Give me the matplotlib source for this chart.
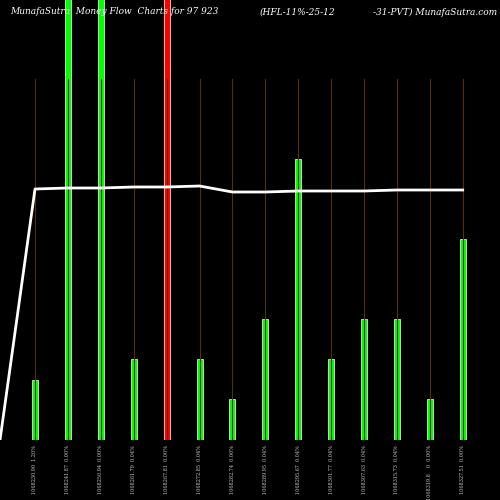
import numpy as np
import matplotlib.pyplot as plt

# bar heights in pixel-ish units (0 = bottom at 440)
vols = [60, 600, 600, 81, 600, 81, 41, 121, 281, 81, 121, 121, 41, 201]
colors = ['#00ff00'] * 14
colors[4] = '#ff0000'
price = [0, 251, 252, 252, 253, 253, 254, 248, 248, 249, 249, 249, 250, 250, 250]
labels = ['1068230.90  1.20%', '1068241.87  0.00%', '1068250.94  0.00%', '1068261.79  0.04%',
          '1068267.81  0.00%', '1068272.85  0.04%', '1068282.74  0.00%', '1068289.95  0.04%',
          '1068295.67  0.04%', '1068301.77  0.04%', '1068307.63  0.04%', '1068315.73  0.04%',
          '1068319.8    0  0.00%', '1068327.51  0.00%']

fig = plt.figure(figsize=(5, 5), dpi=100, facecolor='black')
ax = fig.add_axes([0, 0.12, 1, 0.88])
ax.set_facecolor('black')
ax.set_xlim(0, 500)
ax.set_ylim(0, 440)
ax.axis('off')

xs = 35 + 32.9 * np.arange(14)
for x in xs:
    ax.axvline(x, color='#5a3000', lw=0.8, ymin=0, ymax=0.82)
ax.bar(xs, vols, width=6, color=colors, edgecolor='white', linewidth=0.5)
ax.plot(np.concatenate([[0], xs]), price, color='white', lw=2)

for x, l in zip(xs, labels):
    fig.text(x / 500, 0.11, l, rotation=90, color='#cccccc', fontsize=3.5,
             ha='center', va='top', family='serif')

fig.text(0.02, 0.985, 'MunafaSutra  Money Flow  Charts for 97 923', color='white',
         fontsize=6.5, style='italic', family='serif', va='top')
fig.text(0.52, 0.985, '(HFL-11%-25-12', color='white', fontsize=6.5, style='italic',
         family='serif', va='top')
fig.text(0.995, 0.985, '-31-PVT) MunafaSutra.com', color='white', fontsize=6.5,
         style='italic', family='serif', va='top', ha='right')

fig.savefig('out.png', facecolor='black')
